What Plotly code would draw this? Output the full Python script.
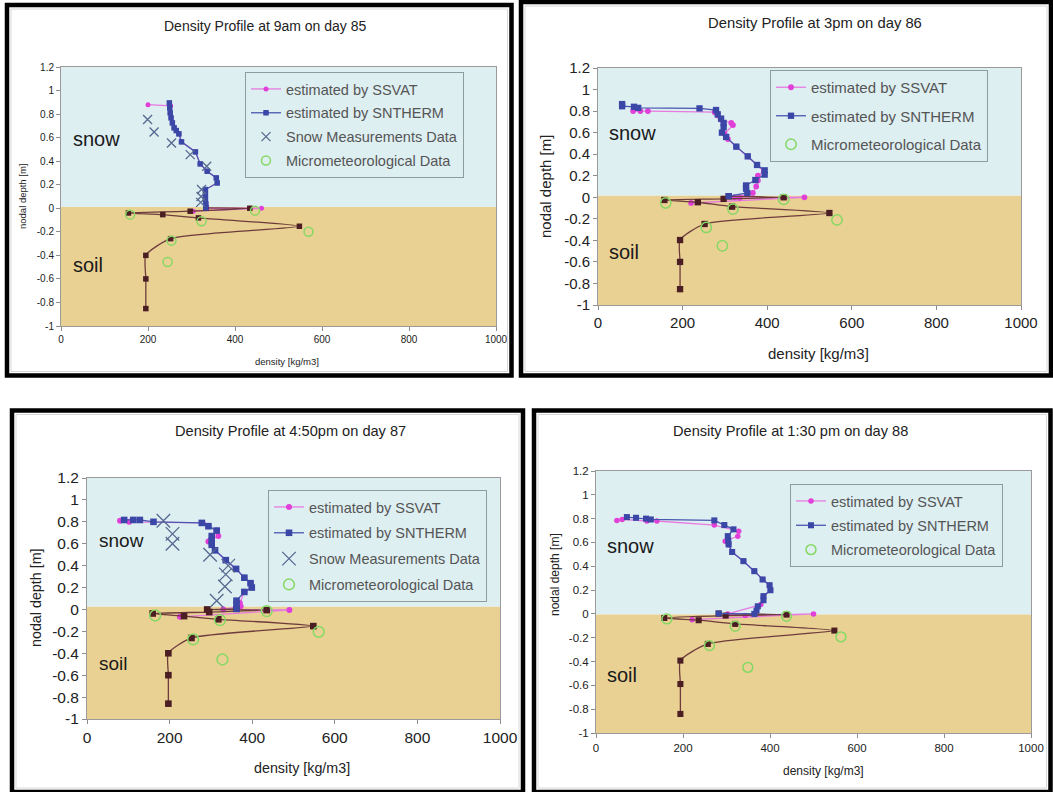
import plotly.graph_objects as go

# ---------------- data ----------------
titles = ["Density Profile at 9am on day 85", "Density Profile at 3pm on day 86",
          "Density Profile at 4:50pm on day 87", "Density Profile at 1:30 pm on day 88"]
x_title = "density [kg/m3]"
y_title = "nodal depth [m]"
xtick_vals = [0, 200, 400, 600, 800, 1000]
xtick_text = ["0", "200", "400", "600", "800", "1000"]
ytick_vals = [1.2, 1.0, 0.8, 0.6, 0.4, 0.2, 0.0, -0.2, -0.4, -0.6, -0.8, -1.0]
ytick_text = ["1.2", "1", "0.8", "0.6", "0.4", "0.2", "0", "-0.2", "-0.4", "-0.6", "-0.8", "-1"]
surface_level = [0.01, 0.015, 0.025, -0.005]

# panel 1 (day 85)
p1_ssvat_x = [200, 252, 251, 253, 256, 260, 265, 271, 277, 309, 320, 336, 357, 359, 332, 332, 332, 333, 335, 461, 304]
p1_ssvat_y = [0.88, 0.87, 0.81, 0.768, 0.725, 0.683, 0.66, 0.632, 0.564, 0.479, 0.377, 0.315, 0.258, 0.215, 0.159, 0.116, 0.074, 0.037, 0.0, 0.0, -0.025]
p1_sntherm_x = [249, 250, 251, 253, 256, 260, 265, 271, 277, 309, 320, 336, 357, 359, 332, 332, 332, 333, 333]
p1_sntherm_y = [0.895, 0.853, 0.81, 0.768, 0.725, 0.683, 0.66, 0.632, 0.564, 0.479, 0.377, 0.315, 0.258, 0.215, 0.159, 0.116, 0.074, 0.037, 0.003]
p1_soil_x = [333, 434, 297, 155, 234, 316, 548, 252, 195, 195, 195]
p1_soil_y = [0.003, 0.0, -0.025, -0.04, -0.054, -0.082, -0.153, -0.258, -0.40, -0.60, -0.852]
p1_snowmeas_x = [199, 214, 254, 297, 335, 323, 322, 321]
p1_snowmeas_y = [0.754, 0.648, 0.555, 0.456, 0.357, 0.16, 0.10, 0.05]
p1_micro_x = [159, 446, 323, 569, 254, 245]
p1_micro_y = [-0.054, -0.02, -0.11, -0.20, -0.275, -0.456]

# panel 2 (day 86)
p2_ssvat_x = [83, 100, 118, 276, 283, 291, 315, 319, 299, 307, 327, 354, 376, 392, 378, 378, 374, 366, 323, 335, 488, 220]
p2_ssvat_y = [0.80, 0.80, 0.80, 0.79, 0.76, 0.72, 0.69, 0.67, 0.59, 0.54, 0.47, 0.38, 0.30, 0.24, 0.20, 0.155, 0.10, 0.04, 0.0, -0.005, 0.0, -0.053]
p2_sntherm_x = [57, 57, 85, 95, 240, 279, 283, 291, 297, 297, 293, 303, 327, 354, 376, 394, 394, 372, 350, 350, 353, 309]
p2_sntherm_y = [0.865, 0.845, 0.84, 0.83, 0.825, 0.81, 0.77, 0.73, 0.69, 0.65, 0.60, 0.56, 0.47, 0.38, 0.30, 0.25, 0.21, 0.16, 0.11, 0.08, 0.04, 0.01]
p2_soil_x = [309, 439, 297, 157, 236, 317, 547, 252, 194, 194, 194]
p2_soil_y = [0.01, 0.0, -0.015, -0.025, -0.046, -0.087, -0.146, -0.248, -0.397, -0.60, -0.853]
p2_micro_x = [160, 439, 319, 565, 256, 294]
p2_micro_y = [-0.053, -0.02, -0.11, -0.21, -0.28, -0.45]

# panel 3 (day 87)
p3_ssvat_x = [80, 102, 280, 294, 314, 318, 294, 302, 310, 336, 361, 381, 396, 399, 381, 370, 372, 330, 490, 225]
p3_ssvat_y = [0.81, 0.80, 0.79, 0.76, 0.72, 0.67, 0.62, 0.59, 0.54, 0.45, 0.37, 0.29, 0.24, 0.20, 0.16, 0.06, 0.03, 0.0, -0.005, -0.067]
p3_sntherm_x = [90, 112, 128, 161, 278, 294, 314, 302, 302, 302, 310, 336, 361, 381, 396, 399, 381, 362, 362, 362]
p3_sntherm_y = [0.817, 0.817, 0.817, 0.80, 0.79, 0.76, 0.72, 0.67, 0.63, 0.59, 0.54, 0.45, 0.37, 0.29, 0.24, 0.20, 0.16, 0.08, 0.05, 0.006]
p3_soil_x = [362, 291, 435, 296, 159, 235, 318, 548, 253, 197, 197, 197]
p3_soil_y = [0.006, 0.0, -0.006, -0.024, -0.037, -0.061, -0.09, -0.152, -0.26, -0.40, -0.60, -0.86]
p3_snowmeas_x = [185, 207, 207, 298, 342, 336, 334, 314]
p3_snowmeas_y = [0.81, 0.69, 0.60, 0.50, 0.40, 0.32, 0.21, 0.08]
p3_micro_x = [165, 435, 322, 561, 257, 328]
p3_micro_y = [-0.055, -0.015, -0.098, -0.204, -0.274, -0.457]

# panel 4 (day 88)
p4_ssvat_x = [48, 60, 117, 140, 272, 328, 326, 297, 304, 313, 339, 364, 383, 399, 401, 385, 379, 303, 343, 500, 221]
p4_ssvat_y = [0.785, 0.793, 0.78, 0.78, 0.746, 0.695, 0.653, 0.611, 0.583, 0.52, 0.443, 0.359, 0.289, 0.241, 0.199, 0.149, 0.078, 0.0, -0.014, 0.0, -0.048]
p4_sntherm_x = [71, 92, 115, 126, 272, 295, 316, 303, 304, 305, 313, 339, 364, 383, 399, 401, 385, 385, 372, 369, 364, 282]
p4_sntherm_y = [0.813, 0.807, 0.80, 0.793, 0.785, 0.746, 0.71, 0.653, 0.617, 0.583, 0.52, 0.443, 0.359, 0.289, 0.241, 0.199, 0.149, 0.115, 0.064, 0.028, 0.0, 0.003]
p4_soil_x = [282, 438, 298, 157, 236, 320, 548, 257, 194, 194, 194]
p4_soil_y = [0.003, -0.006, -0.014, -0.034, -0.053, -0.084, -0.14, -0.252, -0.392, -0.589, -0.84]
p4_micro_x = [163, 438, 320, 563, 261, 349]
p4_micro_y = [-0.042, -0.02, -0.104, -0.193, -0.266, -0.449]

names = ["estimated by SSVAT", "estimated by SNTHERM", "Snow Measurements Data", "Micrometeorological Data"]

# ---------------- layout geometry (pixels) ----------------
W, H = 1053, 792
def px(x): return x / W
def py(y): return 1 - y / H

FONT = "Liberation Sans, Arial, sans-serif"
C_SSVAT_L, C_SSVAT_M = "#E77BE0", "#E040D8"
C_SNT_L, C_SNT_M = "#4856B0", "#3A47A6"
C_SOIL_L, C_SOIL_M = "#6E3C3C", "#4A1E22"
C_MICRO = "#86D865"
C_SNOWM = "#56698F"
C_BLUE = "#DEEFF2"
C_TAN = "#E9D193"

panels = [
    dict(data=dict(ssvat=(p1_ssvat_x, p1_ssvat_y), sntherm=(p1_sntherm_x, p1_sntherm_y), soil=(p1_soil_x, p1_soil_y),
                   snowm=(p1_snowmeas_x, p1_snowmeas_y), micro=(p1_micro_x, p1_micro_y)),
         frame=(7, 5, 511.5, 375.5), plot=(61, 496, 67, 326), title_xy=(265, 26), title_size=14,
         tick_size=10, axt_size=9.5, xt_xy=(287, 361), yt_xy=(22, 196), legend=(245, 72), leg_size=14.5, leg_gap=2,
         snow_xy=(71, 139), soil_xy=(71, 265), label_size=20, ms=1.0),
    dict(data=dict(ssvat=(p2_ssvat_x, p2_ssvat_y), sntherm=(p2_sntherm_x, p2_sntherm_y), soil=(p2_soil_x, p2_soil_y),
                   snowm=None, micro=(p2_micro_x, p2_micro_y)),
         frame=(521, 2, 1051, 375.5), plot=(598, 1021, 68, 305), title_xy=(815, 23), title_size=14.8,
         tick_size=15, axt_size=15, xt_xy=(818, 353), yt_xy=(545, 187), legend=(770, 70), leg_size=15, leg_gap=6,
         snow_xy=(607, 133), soil_xy=(607, 252), label_size=20, ms=1.15),
    dict(data=dict(ssvat=(p3_ssvat_x, p3_ssvat_y), sntherm=(p3_sntherm_x, p3_sntherm_y), soil=(p3_soil_x, p3_soil_y),
                   snowm=(p3_snowmeas_x, p3_snowmeas_y), micro=(p3_micro_x, p3_micro_y)),
         frame=(12, 410.5, 523, 792), plot=(87, 500, 478, 719), title_xy=(290, 431), title_size=14.6,
         tick_size=15.5, axt_size=14.3, xt_xy=(302, 768), yt_xy=(36, 598), legend=(268, 490), leg_size=14.5, leg_gap=4,
         snow_xy=(97, 540), soil_xy=(97, 663), label_size=19, ms=1.2),
    dict(data=dict(ssvat=(p4_ssvat_x, p4_ssvat_y), sntherm=(p4_sntherm_x, p4_sntherm_y), soil=(p4_soil_x, p4_soil_y),
                   snowm=None, micro=(p4_micro_x, p4_micro_y)),
         frame=(534, 410.5, 1050.5, 792), plot=(596, 1031, 471, 733), title_xy=(790, 431), title_size=14.6,
         tick_size=11.5, axt_size=12, xt_xy=(823, 771), yt_xy=(555, 575), legend=(790, 484), leg_size=14.5, leg_gap=2.5,
         snow_xy=(605, 546), soil_xy=(605, 675), label_size=20, ms=1.1),
]

fig = go.Figure()
shapes = []
annotations = []
layout = {}

for i, p in enumerate(panels):
    k = "" if i == 0 else str(i + 1)
    xa, ya = "x" + k, "y" + k
    leg = "legend" + k
    d = p["data"]
    ms = p["ms"]

    # SSVAT
    fig.add_trace(go.Scatter(x=d["ssvat"][0], y=d["ssvat"][1], mode="lines+markers", name=names[0],
                             xaxis=xa, yaxis=ya, legend=leg, legendgroup=f"{i}a", legendrank=1,
                             line=dict(color=C_SSVAT_L, width=1.3),
                             marker=dict(symbol="circle", size=5 * ms, color=C_SSVAT_M)))
    # soil profile (not in legend)
    fig.add_trace(go.Scatter(x=d["soil"][0], y=d["soil"][1], mode="lines+markers", showlegend=False,
                             xaxis=xa, yaxis=ya, legend=leg, hoverinfo="skip",
                             line=dict(color=C_SOIL_L, width=1.3, shape="spline", smoothing=0.6),
                             marker=dict(symbol="square", size=5.5 * ms, color=C_SOIL_M)))
    # SNTHERM
    fig.add_trace(go.Scatter(x=d["sntherm"][0], y=d["sntherm"][1], mode="lines+markers", name=names[1],
                             xaxis=xa, yaxis=ya, legend=leg, legendgroup=f"{i}b", legendrank=2,
                             line=dict(color=C_SNT_L, width=1.3),
                             marker=dict(symbol="square", size=5.5 * ms, color=C_SNT_M)))
    if d["snowm"] is not None:
        fig.add_trace(go.Scatter(x=d["snowm"][0], y=d["snowm"][1], mode="markers", name=names[2],
                                 xaxis=xa, yaxis=ya, legend=leg, legendgroup=f"{i}c", legendrank=3,
                                 marker=dict(symbol="x-thin", size=9 * ms * (1.25 if i == 2 else 1.0),
                                             color=C_SNOWM, line=dict(color=C_SNOWM, width=1.3))))
    fig.add_trace(go.Scatter(x=d["micro"][0], y=d["micro"][1], mode="markers", name=names[3],
                             xaxis=xa, yaxis=ya, legend=leg, legendgroup=f"{i}d", legendrank=4,
                             marker=dict(symbol="circle-open", size=9 * ms, color=C_MICRO,
                                         line=dict(color=C_MICRO, width=1.5))))

    x0, x1, y0, y1 = p["plot"]
    axis_common = dict(showgrid=False, zeroline=False, ticks="outside", ticklen=4, tickcolor="#8c8c8c",
                       showline=True, linecolor="#9a9a9a", linewidth=1, mirror=True, automargin=False,
                       tickfont=dict(family=FONT, size=p["tick_size"], color="#222"))
    layout["xaxis" + k] = dict(domain=[px(x0), px(x1)], anchor=ya, range=[0, 1000],
                               tickmode="array", tickvals=xtick_vals, ticktext=xtick_text, **axis_common)
    layout["yaxis" + k] = dict(domain=[py(y1), py(y0)], anchor=xa, range=[-1, 1.2],
                               tickmode="array", tickvals=ytick_vals, ticktext=ytick_text, **axis_common)
    layout[leg] = dict(x=px(p["legend"][0]), y=py(p["legend"][1]), xanchor="left", yanchor="top",
                       bgcolor="rgba(0,0,0,0)", bordercolor="#8f9c9c", borderwidth=1,
                       font=dict(family=FONT, size=p["leg_size"], color="#555"),
                       tracegroupgap=p["leg_gap"], traceorder="grouped", itemwidth=30)

    # background regions
    sl = surface_level[i]
    shapes.append(dict(type="rect", xref=xa, yref=ya, x0=0, x1=1000, y0=sl, y1=1.2,
                       fillcolor=C_BLUE, line=dict(width=0), layer="below"))
    shapes.append(dict(type="rect", xref=xa, yref=ya, x0=0, x1=1000, y0=-1, y1=sl,
                       fillcolor=C_TAN, line=dict(width=0), layer="below"))
    # panel frames
    fx0, fy0, fx1, fy1 = p["frame"]
    shapes.append(dict(type="rect", xref="paper", yref="paper", x0=px(fx0 + 4), x1=px(fx1 - 4),
                       y0=py(fy1 - 4), y1=py(fy0 + 4), line=dict(color="#d8d8d8", width=1)))
    shapes.append(dict(type="rect", xref="paper", yref="paper", x0=px(fx0), x1=px(fx1),
                       y0=py(fy1), y1=py(fy0), line=dict(color="#000", width=4.5)))

    # texts
    annotations.append(dict(text=titles[i], xref="paper", yref="paper", x=px(p["title_xy"][0]), y=py(p["title_xy"][1]),
                            xanchor="center", yanchor="middle", showarrow=False,
                            font=dict(family=FONT, size=p["title_size"], color="#222")))
    annotations.append(dict(text=x_title, xref="paper", yref="paper", x=px(p["xt_xy"][0]), y=py(p["xt_xy"][1]),
                            xanchor="center", yanchor="middle", showarrow=False,
                            font=dict(family=FONT, size=p["axt_size"], color="#222")))
    annotations.append(dict(text=y_title, xref="paper", yref="paper", x=px(p["yt_xy"][0]), y=py(p["yt_xy"][1]),
                            xanchor="center", yanchor="middle", showarrow=False, textangle=-90,
                            font=dict(family=FONT, size=p["axt_size"], color="#222")))
    annotations.append(dict(text="snow", xref="paper", yref="paper", x=px(p["snow_xy"][0]), y=py(p["snow_xy"][1]),
                            xanchor="left", yanchor="middle", showarrow=False,
                            font=dict(family=FONT, size=p["label_size"], color="#1a1a1a")))
    annotations.append(dict(text="soil", xref="paper", yref="paper", x=px(p["soil_xy"][0]), y=py(p["soil_xy"][1]),
                            xanchor="left", yanchor="middle", showarrow=False,
                            font=dict(family=FONT, size=p["label_size"], color="#1a1a1a")))

fig.update_layout(template="none", width=W, height=H, margin=dict(l=0, r=0, t=0, b=0),
                  paper_bgcolor="white", plot_bgcolor="rgba(0,0,0,0)", shapes=shapes,
                  annotations=annotations, font=dict(family=FONT), **layout)

fig.write_html("out.html")
